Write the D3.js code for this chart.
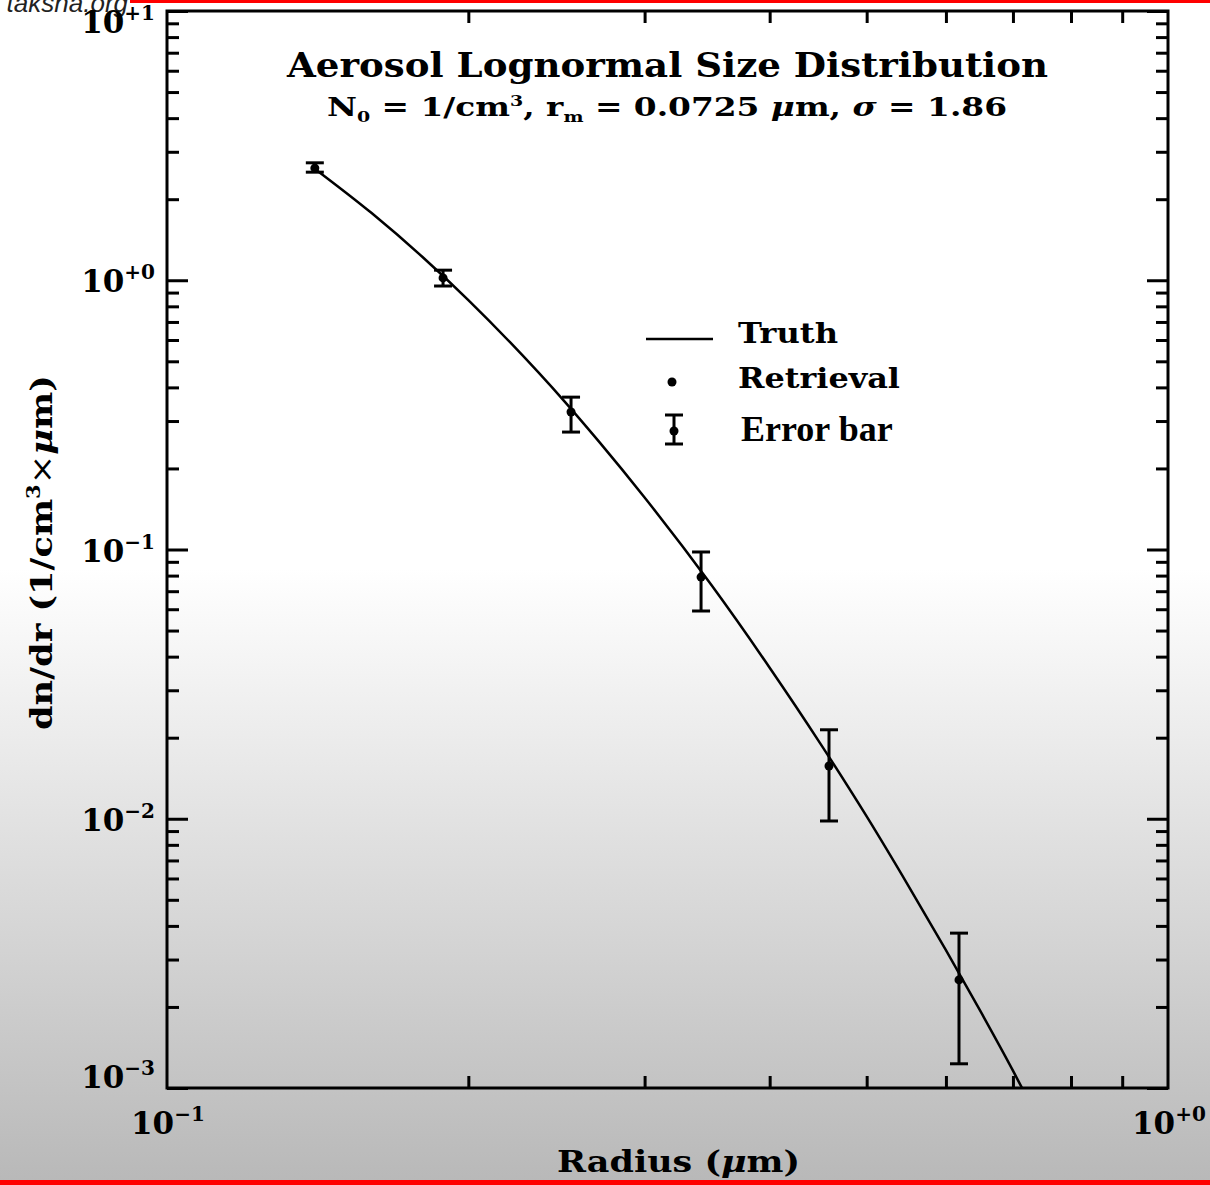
<!DOCTYPE html>
<html>
<head>
  <meta charset="utf-8">
  <title>Aerosol Lognormal Size Distribution</title>
  <script src="https://d3js.org/d3.v7.min.js"></script>
  <style>
    body { margin: 0; background: #fff; }
    svg { display: block; }
    .slab { font-family: "DejaVu Serif", serif; font-weight: bold; fill: #000; }
    .axis path, .axis line { stroke: #000; stroke-width: 3; }
  </style>
</head>
<body>
<svg id="chart" width="1210" height="1185"></svg>
<script>
  // retrieval points (radius in um, dn/dr)
  var retrievalRadius = [0.1405, 0.1887, 0.2533, 0.3416, 0.4585, 0.6183];
  var retrievalValue  = [2.61, 1.02, 0.324, 0.079, 0.0157, 0.00252];
  var errorLow  = [2.52, 0.952, 0.273, 0.0591, 0.00981, 0.00123];
  var errorHigh = [2.73, 1.09, 0.368, 0.0979, 0.0214, 0.00376];

  // truth curve, sampled along the drawn line
  var truthRadius = [0.14, 0.16, 0.18, 0.20, 0.22, 0.25, 0.27, 0.30, 0.35, 0.40, 0.45, 0.50, 0.55, 0.60, 0.65, 0.70, 0.72];
  var truthValue  = [2.62, 1.78, 1.22, 0.844, 0.590, 0.352, 0.252, 0.156, 0.0736, 0.0364, 0.0189, 0.0102, 0.00566, 0.00325, 0.00192, 0.00116, 0.00095];

  var xMajor = [0.1, 1];
  var xMinor = [0.2, 0.3, 0.4, 0.5, 0.6, 0.7, 0.8, 0.9];
  var yMajor = [10, 1, 0.1, 0.01, 0.001];
  var yExp = ["+1", "+0", "\u22121", "\u22122", "\u22123"];
  var xExp = ["\u22121", "+0"];

  var svg = d3.select("#chart");
  var pLeft = 167, pRight = 1168, pTop = 11, pBottom = 1088;

  var x = d3.scaleLog().domain([0.1, 1]).range([pLeft, pRight]);
  var y = d3.scaleLog().domain([0.001, 10]).range([pBottom, pTop]);

  // y minor ticks: 2..9 in each decade
  var yMinor = [];
  [0.001, 0.01, 0.1, 1].forEach(function(d) {
    for (var k = 2; k <= 9; k++) yMinor.push(d * k);
  });

  // background fade
  var defs = svg.append("defs");
  var grad = defs.append("linearGradient").attr("id", "bg")
    .attr("x1", 0).attr("y1", 0).attr("x2", 0).attr("y2", 1);
  grad.append("stop").attr("offset", "0.48").attr("stop-color", "#ffffff");
  grad.append("stop").attr("offset", "1").attr("stop-color", "#b8b8b8");
  svg.append("rect").attr("width", 1210).attr("height", 1185).attr("fill", "url(#bg)");

  defs.append("clipPath").attr("id", "plotclip").append("rect")
    .attr("x", pLeft).attr("y", pTop).attr("width", pRight - pLeft).attr("height", pBottom - pTop);

  // red rules
  svg.append("rect").attr("x", 130).attr("y", 0).attr("width", 1080).attr("height", 3).attr("fill", "#f00");
  svg.append("rect").attr("x", 0).attr("y", 1180).attr("width", 1210).attr("height", 5).attr("fill", "#f00");

  svg.append("text").attr("x", 128).attr("y", 12).attr("text-anchor", "end")
    .style("font-family", "'Liberation Sans', Arial, sans-serif").style("font-style", "italic")
    .style("font-size", "26px").attr("fill", "#222").text("taksha.org");

  // axes: ticks point inward on all four sides
  function axisGroup(axis, tx, ty) {
    var g = svg.append("g").attr("class", "axis").attr("transform", "translate(" + tx + "," + ty + ")").call(axis);
    g.select(".domain").remove();
    g.selectAll("text").remove();
    return g;
  }
  axisGroup(d3.axisBottom(x).tickValues(xMinor).tickSize(-12), 0, pBottom);
  axisGroup(d3.axisTop(x).tickValues(xMinor).tickSize(-12), 0, pTop);
  axisGroup(d3.axisLeft(y).tickValues(yMajor).tickSize(-21), pLeft, 0);
  axisGroup(d3.axisLeft(y).tickValues(yMinor).tickSize(-12), pLeft, 0);
  axisGroup(d3.axisRight(y).tickValues(yMajor).tickSize(-21), pRight, 0);
  axisGroup(d3.axisRight(y).tickValues(yMinor).tickSize(-12), pRight, 0);

  svg.append("rect").attr("x", pLeft).attr("y", pTop).attr("width", pRight - pLeft).attr("height", pBottom - pTop)
    .attr("fill", "none").attr("stroke", "#000").attr("stroke-width", 3);

  // tick labels (end labels are nudged inside the frame, as in the original)
  yMajor.forEach(function(v, i) {
    var off = i === 0 ? 22 : (i === yMajor.length - 1 ? 0 : 12);
    var t = svg.append("text").attr("class", "slab").attr("x", 155).attr("y", y(v) + off)
      .attr("text-anchor", "end").style("font-size", "31px");
    t.append("tspan").text("10");
    t.append("tspan").attr("dy", -13).style("font-size", "20px").text(yExp[i]);
  });
  xMajor.forEach(function(v, i) {
    var t = svg.append("text").attr("class", "slab").attr("x", x(v) - 36).attr("y", 1134)
      .style("font-size", "31px");
    t.append("tspan").text("10");
    t.append("tspan").attr("dy", -13).style("font-size", "20px").text(xExp[i]);
  });

  // axis titles
  var xt = svg.append("text").attr("class", "slab").attr("x", 557).attr("y", 1172)
    .style("font-size", "30px").attr("textLength", 243).attr("lengthAdjust", "spacingAndGlyphs");
  xt.append("tspan").text("Radius (");
  xt.append("tspan").style("font-style", "italic").text("\u03bc");
  xt.append("tspan").text("m)");

  var yt = svg.append("text").attr("class", "slab").attr("transform", "translate(52,730) rotate(-90)")
    .style("font-size", "30px").attr("textLength", 355).attr("lengthAdjust", "spacingAndGlyphs");
  yt.append("tspan").text("dn/dr (1/cm");
  yt.append("tspan").attr("dy", -12).style("font-size", "18px").text("3");
  yt.append("tspan").attr("dy", 12).style("font-weight", "normal").text("\u00d7");
  yt.append("tspan").style("font-style", "italic").text("\u03bc");
  yt.append("tspan").text("m)");

  // title block
  svg.append("text").attr("class", "slab").attr("x", 287).attr("y", 77)
    .style("font-size", "34px").attr("textLength", 761).attr("lengthAdjust", "spacingAndGlyphs")
    .text("Aerosol Lognormal Size Distribution");
  var st = svg.append("text").attr("class", "slab").attr("x", 327).attr("y", 116)
    .style("font-size", "26px").attr("textLength", 680).attr("lengthAdjust", "spacingAndGlyphs");
  st.append("tspan").text("N");
  st.append("tspan").attr("dy", 6).style("font-size", "15px").text("0");
  st.append("tspan").attr("dy", -6).text(" = 1/cm");
  st.append("tspan").attr("dy", -10).style("font-size", "15px").text("3");
  st.append("tspan").attr("dy", 10).text(", r");
  st.append("tspan").attr("dy", 6).style("font-size", "15px").text("m");
  st.append("tspan").attr("dy", -6).text(" = 0.0725 ");
  st.append("tspan").style("font-style", "italic").text("\u03bc");
  st.append("tspan").text("m, ");
  st.append("tspan").style("font-style", "italic").text("\u03c3");
  st.append("tspan").text(" = 1.86");

  // truth curve
  var truth = truthRadius.map(function(r, i) { return [r, truthValue[i]]; });
  var line = d3.line().x(function(d) { return x(d[0]); }).y(function(d) { return y(d[1]); })
    .curve(d3.curveMonotoneX);
  svg.append("path").datum(truth).attr("clip-path", "url(#plotclip)")
    .attr("d", line).attr("fill", "none").attr("stroke", "#000").attr("stroke-width", 2.5);

  // retrieval with error bars
  var pts = retrievalRadius.map(function(r, i) {
    return { r: r, v: retrievalValue[i], lo: errorLow[i], hi: errorHigh[i] };
  });
  var eb = svg.append("g").attr("stroke", "#000").attr("stroke-width", 3);
  pts.forEach(function(d) {
    var cx = x(d.r);
    eb.append("line").attr("x1", cx).attr("x2", cx).attr("y1", y(d.hi)).attr("y2", y(d.lo));
    eb.append("line").attr("x1", cx - 9).attr("x2", cx + 9).attr("y1", y(d.hi)).attr("y2", y(d.hi));
    eb.append("line").attr("x1", cx - 9).attr("x2", cx + 9).attr("y1", y(d.lo)).attr("y2", y(d.lo));
  });
  svg.append("g").selectAll("circle").data(pts).join("circle")
    .attr("cx", function(d) { return x(d.r); }).attr("cy", function(d) { return y(d.v); })
    .attr("r", 4.5).attr("fill", "#000");

  // legend
  var lg = svg.append("g");
  lg.append("line").attr("x1", 646).attr("x2", 713).attr("y1", 339).attr("y2", 339)
    .attr("stroke", "#000").attr("stroke-width", 2.5);
  lg.append("text").attr("class", "slab").attr("x", 738).attr("y", 343).style("font-size", "27px")
    .attr("textLength", 100).attr("lengthAdjust", "spacingAndGlyphs").text("Truth");
  lg.append("circle").attr("cx", 672).attr("cy", 382).attr("r", 4.5).attr("fill", "#000");
  lg.append("text").attr("class", "slab").attr("x", 738).attr("y", 388).style("font-size", "27px")
    .attr("textLength", 162).attr("lengthAdjust", "spacingAndGlyphs").text("Retrieval");
  var le = lg.append("g").attr("stroke", "#000").attr("stroke-width", 3);
  le.append("line").attr("x1", 674).attr("x2", 674).attr("y1", 415).attr("y2", 444);
  le.append("line").attr("x1", 665).attr("x2", 683).attr("y1", 415).attr("y2", 415);
  le.append("line").attr("x1", 665).attr("x2", 683).attr("y1", 444).attr("y2", 444);
  lg.append("circle").attr("cx", 674).attr("cy", 431).attr("r", 4.5).attr("fill", "#000");
  lg.append("text").attr("x", 741).attr("y", 441)
    .style("font-family", "'Liberation Serif', 'Times New Roman', serif").style("font-weight", "bold")
    .style("font-size", "36px").text("Error bar");
</script>
</body>
</html>
